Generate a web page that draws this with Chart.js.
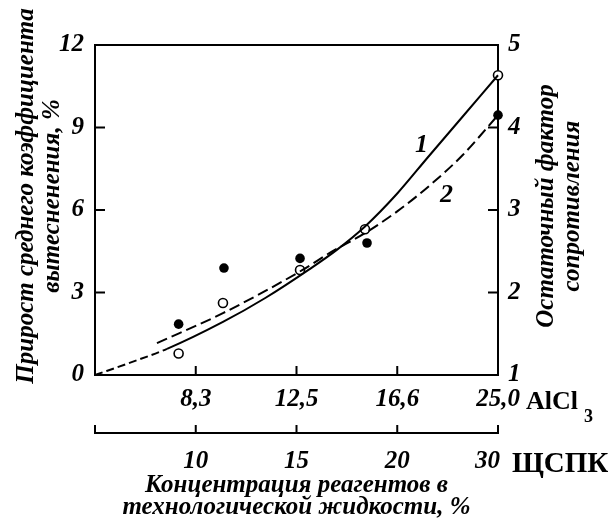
<!DOCTYPE html>
<html>
<head>
<meta charset="utf-8">
<script src="https://cdn.jsdelivr.net/npm/chart.js@4.4.0/dist/chart.umd.min.js"></script>
<style>
  html, body { margin: 0; padding: 0; background: #fff; }
</style>
</head>
<body>
<canvas id="concChart" width="616" height="519"></canvas>
<script>
// x is a position scale: 1..4 are the concentration steps, 0 is the origin
const alclLabels = ['8,3', '12,5', '16,6', '25,0'];
const shchLabels = ['10', '15', '20', '30'];
const stepPositions = [1, 2, 3, 4];
const leftTicks = [0, 3, 6, 9, 12];
const rightTicks = [1, 2, 3, 4, 5];

// curve 1 (solid, dashed near the origin) and curve 2 (dashed)
const curve1X = [0, 0.35, 0.715, 1.27, 1.69, 2.13, 2.4, 2.68, 3.0, 3.3, 3.65, 4.0];
const curve1Y = [0, 0.45, 0.95, 1.93, 2.8, 3.85, 4.55, 5.4, 6.6, 7.9, 9.4, 10.9];
const curve2X = [0.615, 1.27, 2.06, 2.33, 2.68, 3.0, 3.35, 3.65, 4.0];
const curve2Y = [1.16, 2.25, 3.82, 4.44, 5.16, 5.95, 6.98, 8.0, 9.45];

// measured points
const openX = [0.83, 1.27, 2.035, 2.68, 4.0];
const openY = [0.78, 2.62, 3.82, 5.3, 10.9];
const filledX = [0.83, 1.28, 2.035, 2.70, 4.0];
const filledY = [1.85, 3.89, 4.24, 4.8, 9.45];

const serif = 'Liberation Serif';
const tickFont = { family: serif, size: 25, style: 'italic', weight: 'bold' };

function pts(xs, ys) {
  return xs.map((x, i) => ({ x: x, y: ys[i] }));
}

// inward tick marks, frame top, rotated titles and extra labels
const extras = {
  id: 'extras',
  beforeDatasetsDraw(chart) {
    const ctx = chart.ctx;
    const a = chart.chartArea;
    const s = chart.scales;
    ctx.save();
    ctx.strokeStyle = '#000';
    ctx.lineWidth = 2;
    ctx.beginPath();
    ctx.moveTo(a.left - 1, a.top);
    ctx.lineTo(a.right + 1, a.top);
    leftTicks.slice(1, -1).forEach(v => {
      const y = s.y.getPixelForValue(v);
      ctx.moveTo(a.left, y); ctx.lineTo(a.left + 10, y);
    });
    rightTicks.slice(1, -1).forEach(v => {
      const y = s.y2.getPixelForValue(v);
      ctx.moveTo(a.right, y); ctx.lineTo(a.right - 10, y);
    });
    stepPositions.slice(0, -1).forEach(v => {
      const x = s.x.getPixelForValue(v);
      ctx.moveTo(x, a.bottom); ctx.lineTo(x, a.bottom - 9);
    });
    [0].concat(stepPositions).forEach(v => {
      const x = s.x2.getPixelForValue(v);
      ctx.moveTo(x, s.x2.top + 1); ctx.lineTo(x, s.x2.top - 8);
    });
    ctx.stroke();
    ctx.restore();
  },
  afterDraw(chart) {
    const ctx = chart.ctx;
    const s = chart.scales;
    ctx.save();
    ctx.fillStyle = '#000';
    ctx.font = 'italic bold 25px "' + serif + '"';

    // left title
    ctx.save();
    ctx.translate(0, 196);
    ctx.rotate(-Math.PI / 2);
    ctx.textAlign = 'center';
    ctx.textBaseline = 'alphabetic';
    ctx.fillText('Прирост среднего коэффициента', 0, 33);
    ctx.fillText('вытесненения, %', 0, 59);
    ctx.restore();

    // right title
    ctx.save();
    ctx.translate(0, 206);
    ctx.rotate(-Math.PI / 2);
    ctx.textAlign = 'center';
    ctx.fillText('Остаточный фактор', 0, 553);
    ctx.fillText('сопротивления', 0, 579);
    ctx.restore();

    // curve numbers
    ctx.font = 'italic bold 26px "' + serif + '"';
    ctx.textAlign = 'center';
    ctx.textBaseline = 'middle';
    ctx.fillText('1', s.x.getPixelForValue(3.24), s.y.getPixelForValue(8.35));
    ctx.fillText('2', s.x.getPixelForValue(3.49), s.y.getPixelForValue(6.55));

    // last step of the lower scale and the reagent names
    const xr = s.x.getPixelForValue(4);
    ctx.font = 'italic bold 25px "' + serif + '"';
    ctx.textAlign = 'right';
    ctx.fillText(shchLabels[3], xr + 2, 462);
    ctx.textAlign = 'left';
    ctx.textBaseline = 'alphabetic';
    ctx.font = 'bold 26px "' + serif + '"';
    ctx.fillText('AlCl', xr + 28, 409);
    ctx.font = 'bold 18px "' + serif + '"';
    ctx.fillText('3', xr + 86, 422);
    ctx.font = 'bold 29px "' + serif + '"';
    ctx.fillText('ЩСПК', xr + 14, 472);
    ctx.restore();
  }
};

new Chart(document.getElementById('concChart').getContext('2d'), {
  type: 'line',
  data: {
    datasets: [
      {
        data: pts(curve1X, curve1Y),
        borderColor: '#000',
        borderWidth: 2,
        pointRadius: 0,
        cubicInterpolationMode: 'monotone',
        segment: {
          borderDash: c => (c.p1.parsed.x <= 0.72 ? [8, 4] : undefined)
        },
        clip: false
      },
      {
        data: pts(curve2X, curve2Y),
        borderColor: '#000',
        borderWidth: 2,
        borderDash: [11, 5],
        pointRadius: 0,
        cubicInterpolationMode: 'monotone',
        clip: false
      },
      {
        data: pts(openX, openY),
        showLine: false,
        pointRadius: 4.5,
        pointBorderWidth: 1.6,
        pointBorderColor: '#000',
        pointBackgroundColor: '#fff',
        clip: false
      },
      {
        data: pts(filledX, filledY),
        showLine: false,
        pointRadius: 4.8,
        pointBorderWidth: 0,
        pointBackgroundColor: '#000',
        clip: false
      }
    ]
  },
  options: {
    responsive: false,
    animation: false,
    devicePixelRatio: 1,
    layout: { padding: { top: 45, left: 0, right: 0, bottom: 0 } },
    plugins: { legend: { display: false }, tooltip: { enabled: false } },
    scales: {
      x: {
        type: 'linear',
        position: 'bottom',
        min: 0, max: 4,
        grid: { display: false, drawTicks: false },
        border: { display: true, color: '#000', width: 2 },
        afterBuildTicks: sc => { sc.ticks = stepPositions.map(v => ({ value: v })); },
        afterFit: sc => { sc.height = 58; },
        ticks: {
          color: '#000', font: tickFont, padding: 10, maxRotation: 0, autoSkip: false,
          callback: v => alclLabels[stepPositions.indexOf(v)]
        }
      },
      x2: {
        type: 'linear',
        position: 'bottom',
        min: 0, max: 4,
        grid: { display: false, drawTicks: false },
        border: { display: true, color: '#000', width: 2 },
        afterBuildTicks: sc => { sc.ticks = stepPositions.slice(0, -1).map(v => ({ value: v })); },
        afterFit: sc => { sc.height = 86; },
        ticks: {
          color: '#000', font: tickFont, padding: 14, maxRotation: 0, autoSkip: false,
          callback: v => shchLabels[stepPositions.indexOf(v)]
        },
        title: {
          display: true,
          color: '#000',
          text: ['Концентрация реагентов в', 'технологической жидкости, %'],
          font: { family: serif, size: 25, style: 'italic', weight: 'bold', lineHeight: 0.88 },
          padding: { top: 0, bottom: 0 }
        }
      },
      y: {
        type: 'linear',
        position: 'left',
        min: 0, max: 12,
        grid: { display: false, drawTicks: false },
        border: { display: true, color: '#000', width: 2 },
        afterBuildTicks: sc => { sc.ticks = leftTicks.map(v => ({ value: v })); },
        afterFit: sc => { sc.width = 95; },
        ticks: { color: '#000', font: tickFont, padding: 11 }
      },
      y2: {
        type: 'linear',
        position: 'right',
        min: 1, max: 5,
        grid: { display: false, drawTicks: false },
        border: { display: true, color: '#000', width: 2 },
        afterBuildTicks: sc => { sc.ticks = rightTicks.map(v => ({ value: v })); },
        afterFit: sc => { sc.width = 118; },
        ticks: { color: '#000', font: tickFont, padding: 10 }
      }
    }
  },
  plugins: [extras]
});
</script>
</body>
</html>
